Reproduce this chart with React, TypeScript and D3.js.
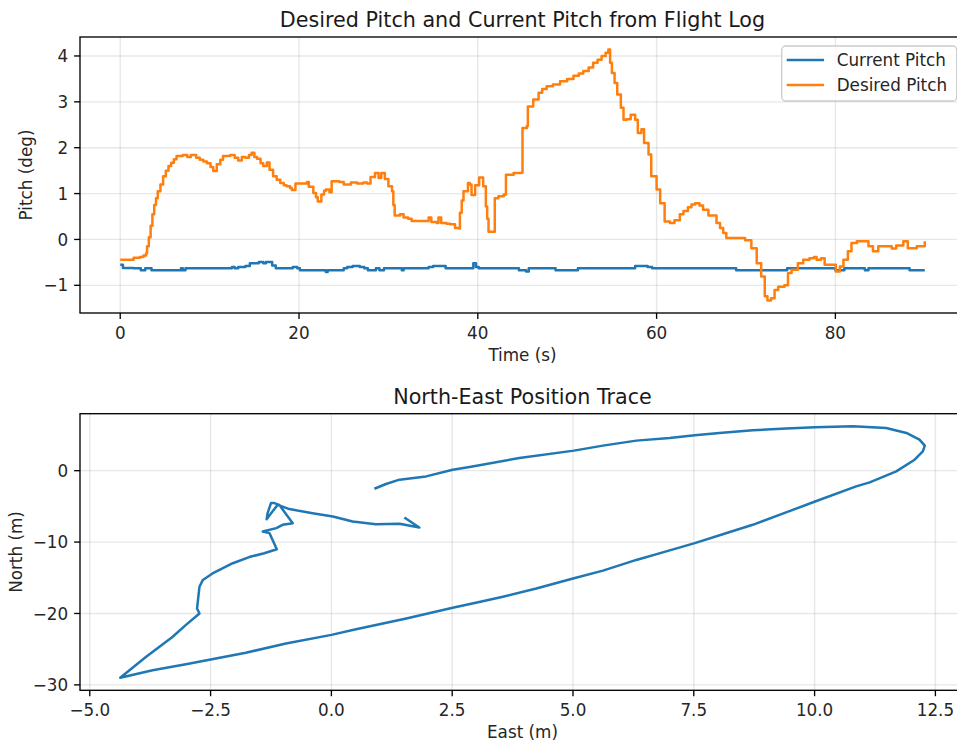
import { useRef, useEffect } from "react"
import * as d3 from "d3"

// Flight log: desired pitch (deg) vs time (s)
const desiredTime = [
  0, 1.4, 1.5, 2.2, 2.6, 2.9, 3.0, 3.2, 3.4, 3.6, 3.8, 4.0, 4.2, 4.5, 4.8, 5.1, 5.4, 5.7, 6.0, 6.3,
  7.0, 7.5, 7.9, 8.5, 8.9, 9.3, 9.7, 10.1, 10.4, 10.8, 11.2, 11.5, 12.3, 12.8, 13.2, 13.6, 14.0, 14.4,
  14.7, 15.0, 15.3, 15.7, 16.0, 16.4, 16.7, 17.1, 17.5, 17.9, 18.3, 18.6, 19.0, 19.2, 19.6, 20.2, 20.9,
  21.1, 21.6, 21.9, 22.1, 22.5, 22.8, 23.0, 23.4, 23.65, 24.5, 25.0, 25.8, 26.5, 27.2, 27.6, 28.0, 28.5,
  28.9, 29.2, 29.6, 30.0, 30.4, 30.55, 30.7, 31.3, 31.7, 32.2, 32.6, 33.5, 34.3, 34.5, 34.8, 35.4, 35.6,
  35.9, 36.5, 36.9, 37.45, 37.9, 38.0, 38.2, 38.4, 38.9, 39.1, 39.3, 39.7, 40.15, 40.6, 40.9, 41.05,
  41.2, 41.7, 41.9, 42.3, 42.9, 43.15, 44.0, 44.9, 45.0, 45.5, 45.6, 46.2, 46.8, 47.2, 47.7, 48.4, 49.2,
  50.0, 50.7, 51.3, 51.8, 52.4, 52.9, 53.4, 53.85, 54.3, 54.6, 54.8, 55.0, 55.3, 55.6, 56.0, 56.3, 56.6,
  57.1, 57.6, 57.9, 58.3, 58.6, 59.1, 59.4, 60.0, 60.4, 60.9, 61.5, 62.0, 62.6, 63.0, 63.5, 63.9, 64.3,
  64.8, 65.2, 65.8, 66.7, 67.1, 67.45, 67.8, 69.5, 69.9, 70.6, 71.2, 71.7, 72.1, 72.4, 72.8, 73.2, 73.6,
  74.3, 74.7, 75.1, 75.8, 76.4, 77.1, 77.6, 77.9, 78.4, 78.8, 79.6, 80.05, 80.5, 80.9, 81.4, 81.8, 82.4,
  83.1, 83.7, 84.2, 84.8, 85.7, 86.3, 86.8, 87.6, 88.1, 89.1, 89.6, 90.0,
]
const desiredPitch = [
  -0.44, -0.44, -0.4, -0.38, -0.35, -0.3, -0.15, 0.05, 0.3, 0.55, 0.75, 0.9, 1.05, 1.2, 1.38, 1.5, 1.6,
  1.67, 1.75, 1.82, 1.84, 1.8, 1.84, 1.78, 1.74, 1.7, 1.66, 1.58, 1.49, 1.64, 1.74, 1.82, 1.84, 1.78,
  1.72, 1.8, 1.78, 1.84, 1.89, 1.8, 1.76, 1.66, 1.6, 1.68, 1.52, 1.38, 1.3, 1.23, 1.18, 1.16, 1.12, 1.08,
  1.22, 1.22, 1.25, 1.15, 1.01, 0.92, 0.83, 0.98, 1.06, 1.09, 1.03, 1.27, 1.25, 1.2, 1.24, 1.22, 1.24,
  1.22, 1.36, 1.45, 1.34, 1.45, 1.32, 1.16, 1.05, 0.75, 0.52, 0.55, 0.48, 0.45, 0.4, 0.4, 0.4, 0.48,
  0.38, 0.36, 0.48, 0.36, 0.34, 0.33, 0.25, 0.24, 0.58, 0.85, 1.05, 1.23, 1.2, 0.97, 1.18, 1.35, 1.16,
  0.72, 0.45, 0.17, 0.17, 0.9, 0.94, 0.98, 1.41, 1.45, 1.46, 2.43, 2.48, 2.9, 3.05, 3.2, 3.28, 3.34,
  3.38, 3.45, 3.5, 3.57, 3.62, 3.67, 3.75, 3.85, 3.92, 4.0, 4.07, 4.14, 3.85, 3.63, 3.41, 3.16, 2.87,
  2.61, 2.62, 2.72, 2.61, 2.32, 2.4, 2.1, 1.85, 1.38, 1.09, 0.79, 0.39, 0.36, 0.42, 0.55, 0.62, 0.7,
  0.76, 0.79, 0.74, 0.65, 0.52, 0.36, 0.25, 0.14, 0.03, 0.03, -0.02, -0.19, -0.52, -0.81, -1.24, -1.33,
  -1.28, -1.1, -1.03, -1.0, -0.73, -0.66, -0.52, -0.44, -0.41, -0.38, -0.44, -0.41, -0.55, -0.55, -0.7,
  -0.59, -0.44, -0.26, -0.08, -0.04, -0.04, -0.15, -0.26, -0.15, -0.15, -0.2, -0.13, -0.04, -0.19,
  -0.15, -0.15, -0.04,
]

// Flight log: current pitch (deg) vs time (s)
const currentTime = [
  0, 0.3, 1.5, 2.3, 2.8, 3.5, 6.8, 7.0, 7.3, 12.5, 12.8, 13.2, 14.0, 14.5, 15.5, 16.0, 16.3, 17.0, 17.4,
  19.3, 19.8, 20.1, 23.0, 23.2, 25.0, 25.4, 26.0, 26.8, 27.3, 27.7, 28.6, 29.0, 29.5, 31.5, 31.7, 34.5,
  35.0, 36.4, 39.5, 39.8, 40.1, 44.6, 45.4, 45.7, 48.7, 51.0, 51.2, 57.6, 59.0, 59.5, 62.5, 68.9, 74.6,
  80.0, 81.0, 83.3, 83.7, 88.3, 90.0,
]
const currentPitch = [
  -0.55, -0.62, -0.63, -0.67, -0.63, -0.67, -0.63, -0.67, -0.63, -0.6, -0.63, -0.6, -0.58, -0.52, -0.49,
  -0.52, -0.49, -0.57, -0.63, -0.6, -0.63, -0.67, -0.71, -0.67, -0.63, -0.6, -0.58, -0.6, -0.63, -0.67,
  -0.63, -0.67, -0.63, -0.67, -0.63, -0.6, -0.58, -0.63, -0.52, -0.6, -0.63, -0.67, -0.7, -0.63, -0.67,
  -0.67, -0.63, -0.58, -0.6, -0.63, -0.63, -0.67, -0.63, -0.67, -0.63, -0.67, -0.63, -0.67, -0.67,
]

// North-East position trace (m)
const eastPos = [
  0.89, 1.13, 1.41, 1.96, 2.51, 2.86, 3.89, 5.02, 5.62, 6.31, 7.0, 7.52, 8.03, 8.72, 9.41, 10.01, 10.79,
  11.48, 11.9, 12.17, 12.28, 12.24, 12.07, 11.69, 11.14, 10.86, 10.01, 9.41, 8.72, 8.1, 7.52, 6.93, 6.31,
  5.62, 5.02, 4.24, 3.55, 3.06, 2.51, 1.55, 0.51, 0, -0.94, -1.77, -3.01, -3.7, -4.37, -3.84, -3.29,
  -3.01, -2.73, -2.78, -2.73, -2.66, -2.46, -2.04, -1.7, -1.39, -1.13, -1.28, -1.42, -1.14, -1.01, -0.8,
  -1.08, -1.18, -1.25, -1.32, -1.34, -1.22, -1.11, -0.87, -0.39, 0.03, 0.44, 0.92, 1.41, 1.82, 1.51,
]
const northPos = [
  -2.53, -1.87, -1.26, -0.8, 0.14, 0.52, 1.78, 2.81, 3.51, 4.21, 4.59, 4.96, 5.29, 5.66, 5.9, 6.08, 6.22,
  5.99, 5.29, 4.35, 3.51, 2.71, 1.54, -0.1, -1.64, -2.2, -4.31, -5.85, -7.58, -8.9, -10.15, -11.3, -12.5,
  -14.0, -15.07, -16.5, -17.65, -18.4, -19.2, -20.7, -22.2, -23.0, -24.2, -25.5, -27.1, -27.95, -29.0,
  -26.1, -23.3, -21.6, -20.0, -19.3, -16.25, -15.3, -14.4, -12.96, -12.1, -11.56, -11.0, -8.75, -8.52,
  -8.05, -7.58, -7.35, -4.78, -4.54, -4.54, -5.95, -6.79, -5.72, -4.78, -5.38, -5.95, -6.42, -7.12,
  -7.5, -7.44, -7.96, -6.55,
]

// Tick values
const timeTicks = [0, 20, 40, 60, 80]
const pitchTicks = [-1, 0, 1, 2, 3, 4]
const eastTicks = [-5, -2.5, 0, 2.5, 5, 7.5, 10, 12.5]
const northTicks = [-30, -20, -10, 0]

const BLUE = "#1f77b4"
const ORANGE = "#ff7f0e"
const FONT = "DejaVu Sans, sans-serif"
const TICK_FS = 16.8
const TITLE_FS = 20.7

// matplotlib-style 5% padding
const padded = (vals: number[]) => {
  const [lo, hi] = d3.extent(vals) as [number, number]
  const m = (hi - lo) * 0.05
  return [lo - m, hi + m]
}

const fmt = (v: number, digits: number) => v.toFixed(digits).replace("-", "\u2212")

const App = () => {
  const svgRef = useRef<SVGSVGElement>(null)

  useEffect(() => {
    const svg = d3.select(svgRef.current)
    svg.selectAll("*").remove()

    const left = 80
    const right = 965

    const drawAxes = (opts: any) => {
      const { x, y, top, bottom, xTicks, yTicks, xDigits, yDigits, title, xLabel, yLabel, yLabelX } = opts
      const g = svg.append("g")

      // grid
      g.selectAll(".gx")
        .data(xTicks)
        .enter()
        .append("line")
        .attr("x1", (d: number) => x(d))
        .attr("x2", (d: number) => x(d))
        .attr("y1", top)
        .attr("y2", bottom)
        .attr("stroke", "#b0b0b0")
        .attr("stroke-opacity", 0.3)
        .attr("stroke-width", 1.34)
      g.selectAll(".gy")
        .data(yTicks)
        .enter()
        .append("line")
        .attr("x1", left)
        .attr("x2", right)
        .attr("y1", (d: number) => y(d))
        .attr("y2", (d: number) => y(d))
        .attr("stroke", "#b0b0b0")
        .attr("stroke-opacity", 0.3)
        .attr("stroke-width", 1.34)

      // frame
      g.append("rect")
        .attr("x", left)
        .attr("y", top)
        .attr("width", right - left)
        .attr("height", bottom - top)
        .attr("fill", "none")
        .attr("stroke", "#000")
        .attr("stroke-width", 1.34)

      // x ticks
      xTicks.forEach((d: number) => {
        g.append("line")
          .attr("x1", x(d))
          .attr("x2", x(d))
          .attr("y1", bottom)
          .attr("y2", bottom + 5.9)
          .attr("stroke", "#000")
          .attr("stroke-width", 1.34)
        g.append("text")
          .attr("x", x(d))
          .attr("y", bottom + 25.5)
          .attr("text-anchor", "middle")
          .style("font-family", FONT)
          .style("font-size", `${TICK_FS}px`)
          .attr("fill", "#262626")
          .text(fmt(d, xDigits))
      })

      // y ticks
      yTicks.forEach((d: number) => {
        g.append("line")
          .attr("x1", left - 5.9)
          .attr("x2", left)
          .attr("y1", y(d))
          .attr("y2", y(d))
          .attr("stroke", "#000")
          .attr("stroke-width", 1.34)
        g.append("text")
          .attr("x", left - 11.8)
          .attr("y", y(d) + 6.1)
          .attr("text-anchor", "end")
          .style("font-family", FONT)
          .style("font-size", `${TICK_FS}px`)
          .attr("fill", "#262626")
          .text(fmt(d, yDigits))
      })

      // title and labels
      g.append("text")
        .attr("x", (left + right) / 2)
        .attr("y", top - 10)
        .attr("text-anchor", "middle")
        .style("font-family", FONT)
        .style("font-size", `${TITLE_FS}px`)
        .attr("fill", "#1a1a1a")
        .text(title)
      g.append("text")
        .attr("x", (left + right) / 2)
        .attr("y", bottom + 48)
        .attr("text-anchor", "middle")
        .style("font-family", FONT)
        .style("font-size", `${TICK_FS}px`)
        .attr("fill", "#262626")
        .text(xLabel)
      g.append("text")
        .attr("transform", `translate(${yLabelX},${(top + bottom) / 2}) rotate(-90)`)
        .attr("text-anchor", "middle")
        .attr("dy", "0.35em")
        .style("font-family", FONT)
        .style("font-size", `${TICK_FS}px`)
        .attr("fill", "#262626")
        .text(yLabel)
      return g
    }

    // ---- Top: pitch over time ----
    const topY0 = 37
    const topY1 = 313
    const xTime = d3.scaleLinear().domain(padded([...desiredTime, ...currentTime])).range([left, right])
    const yPitch = d3.scaleLinear().domain(padded([...desiredPitch, ...currentPitch])).range([topY1, topY0])

    const gTop = drawAxes({
      x: xTime,
      y: yPitch,
      top: topY0,
      bottom: topY1,
      xTicks: timeTicks,
      yTicks: pitchTicks,
      xDigits: 0,
      yDigits: 0,
      title: "Desired Pitch and Current Pitch from Flight Log",
      xLabel: "Time (s)",
      yLabel: "Pitch (deg)",
      yLabelX: 26,
    })

    // logged values are quantised, so draw them as steps
    const stepLine = d3.line().curve(d3.curveStepAfter)
    const current = currentTime.map((t, i) => [xTime(t), yPitch(currentPitch[i])] as [number, number])
    const desired = desiredTime.map((t, i) => [xTime(t), yPitch(desiredPitch[i])] as [number, number])

    gTop.append("path")
      .attr("d", stepLine(current))
      .attr("fill", "none")
      .attr("stroke", BLUE)
      .attr("stroke-width", 2.5)
      .attr("stroke-linejoin", "round")
    gTop.append("path")
      .attr("d", stepLine(desired))
      .attr("fill", "none")
      .attr("stroke", ORANGE)
      .attr("stroke-width", 2.5)
      .attr("stroke-linejoin", "round")

    // legend
    const lg = gTop.append("g")
    lg.append("rect")
      .attr("x", 781.7)
      .attr("y", 46)
      .attr("width", 175)
      .attr("height", 55)
      .attr("rx", 4)
      .attr("fill", "#fff")
      .attr("fill-opacity", 0.8)
      .attr("stroke", "#cccccc")
      .attr("stroke-width", 1.3)
    ;[
      { label: "Current Pitch", color: BLUE, y: 60 },
      { label: "Desired Pitch", color: ORANGE, y: 85 },
    ].forEach((d) => {
      lg.append("line")
        .attr("x1", 786.7)
        .attr("x2", 824)
        .attr("y1", d.y)
        .attr("y2", d.y)
        .attr("stroke", d.color)
        .attr("stroke-width", 2.5)
      lg.append("text")
        .attr("x", 836.7)
        .attr("y", d.y + 6)
        .style("font-family", FONT)
        .style("font-size", `${TICK_FS}px`)
        .attr("fill", "#262626")
        .text(d.label)
    })

    // ---- Bottom: north-east trace ----
    const botY0 = 413.7
    const botY1 = 690.3
    const xEast = d3.scaleLinear().domain(padded(eastPos)).range([left, right])
    const yNorth = d3.scaleLinear().domain(padded(northPos)).range([botY1, botY0])

    const gBot = drawAxes({
      x: xEast,
      y: yNorth,
      top: botY0,
      bottom: botY1,
      xTicks: eastTicks,
      yTicks: northTicks,
      xDigits: 1,
      yDigits: 0,
      title: "North-East Position Trace",
      xLabel: "East (m)",
      yLabel: "North (m)",
      yLabelX: 16,
    })

    const trace = d3
      .line<number>()
      .x((d) => xEast(d))
      .y((_, i) => yNorth(northPos[i]))

    gBot.append("path")
      .attr("d", trace(eastPos))
      .attr("fill", "none")
      .attr("stroke", BLUE)
      .attr("stroke-width", 2.5)
      .attr("stroke-linejoin", "round")
  }, [])

  return (
    <div>
      <svg
        ref={svgRef}
        width={957}
        height={744}
        style={{ position: "absolute", left: 0, top: 0, background: "#fff" }}
      ></svg>
    </div>
  )
}

export default App
